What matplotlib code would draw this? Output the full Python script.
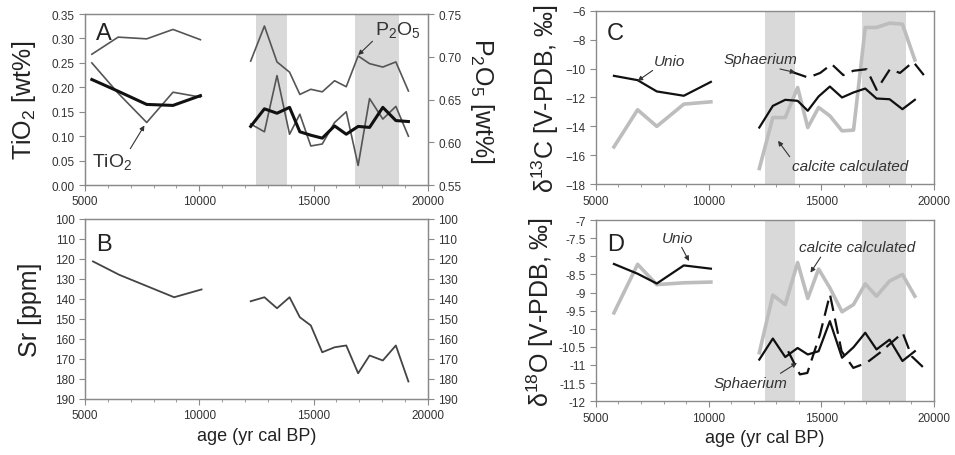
import matplotlib
matplotlib.use("Agg")
import matplotlib.pyplot as plt
from matplotlib.ticker import MultipleLocator, FormatStrFormatter, FuncFormatter

plt.rcParams['font.family'] = ['Liberation Sans', 'DejaVu Sans']
plt.rcParams['mathtext.fontset'] = 'custom'
plt.rcParams['mathtext.rm'] = 'Liberation Sans'

# ages (yr cal BP)
ages_holo = [5300, 6450, 7700, 8850, 10050]
ages_late = [12250, 12850, 13400, 13950, 14400, 14880, 15380, 15920,
             16430, 16950, 17450, 18030, 18600, 19150]

# panel A
tio2_holo = [0.250, 0.188, 0.128, 0.190, 0.180]
tio2_late = [0.125, 0.109, 0.224, 0.104, 0.145, 0.080, 0.084, 0.128,
             0.150, 0.040, 0.177, 0.135, 0.161, 0.100]
tio2_smooth_holo = [0.216, 0.192, 0.165, 0.163, 0.183]
tio2_smooth_late = [0.120, 0.156, 0.147, 0.159, 0.109, 0.102, 0.096, 0.121,
                    0.104, 0.120, 0.118, 0.159, 0.132, 0.130]
p2o5_holo = [0.703, 0.723, 0.721, 0.732, 0.720]
p2o5_late = [0.695, 0.736, 0.694, 0.682, 0.656, 0.662, 0.659, 0.672,
             0.665, 0.701, 0.692, 0.688, 0.694, 0.660]

# panel B
sr_ages_holo = [5350, 6500, 8900, 10100]
sr_holo = [121.3, 128.0, 139.2, 135.3]
sr_late = [141.2, 139.2, 144.7, 139.2, 149.2, 153.3, 166.7, 164.2,
           163.3, 177.2, 168.3, 170.8, 163.3, 181.3]

# panel C (d13C)
unio_ages_holo = [5800, 6850, 7700, 8900, 10100]
c_unio_holo = [-10.50, -10.80, -11.58, -11.88, -10.92]
c_calc_holo = [-15.42, -12.85, -14.00, -12.46, -12.30]
c_unio_late = [-14.08, -12.58, -12.16, -12.23, -12.92, -11.93, -11.24, -12.00,
               -11.65, -11.38, -12.07, -12.12, -12.81, -12.16]
c_calc_late = [-16.92, -13.39, -13.39, -11.31, -14.08, -12.69, -13.27, -14.31,
               -14.26, -7.15, -7.15, -6.85, -6.92, -9.40]
c_sph_ages = [13680, 14420, 14950, 15460, 15975, 16420, 17010, 17455,
              18046, 18490, 19080, 19550]
c_sph = [-10.22, -10.62, -10.30, -9.69, -10.45, -10.15, -10.04, -11.47,
         -10.04, -10.30, -9.53, -10.45]

# panel D (d18O)
d_unio_holo = [-8.21, -8.48, -8.75, -8.25, -8.34]
d_calc_holo = [-9.56, -8.22, -8.78, -8.73, -8.71]
d_unio_late = [-10.85, -10.27, -10.78, -10.53, -10.71, -10.62, -9.79, -10.80,
               -10.51, -10.11, -10.57, -10.30, -10.89, -10.62]
d_calc_late = [-10.66, -9.07, -9.33, -8.17, -9.16, -8.35, -8.87, -9.53,
               -9.33, -8.76, -9.10, -8.68, -8.50, -9.10]
d_sph_ages = [13530, 13830, 14050, 14380, 14940, 15384, 15900, 16420,
              17010, 17600, 18190, 18610, 19010, 19550]
d_sph = [-10.62, -10.99, -11.26, -11.22, -10.16, -9.05, -10.62, -11.08,
         -10.94, -10.66, -10.34, -10.11, -10.76, -11.08]

bands = [(12500, 13850), (16820, 18760)]

spine_col = '#8a8a8a'
txt_col = '#333333'
band_col = '#d9d9d9'


def style(ax, shade=True):
    ax.set_xlim(5000, 20000)
    ax.xaxis.set_major_locator(MultipleLocator(5000))
    ax.xaxis.set_minor_locator(MultipleLocator(1000))
    for s in ax.spines.values():
        s.set_color(spine_col)
        s.set_linewidth(1.0)
    ax.tick_params(which='both', colors=spine_col, labelcolor=txt_col,
                   labelsize=8.5, direction='out')
    ax.tick_params(which='major', length=4)
    ax.tick_params(which='minor', length=2.5)
    if shade:
        for b in bands:
            ax.axvspan(b[0], b[1], color=band_col, lw=0, zorder=0)


def style_twin(ax):
    for s in ax.spines.values():
        s.set_color(spine_col)
    ax.tick_params(colors=spine_col, labelcolor=txt_col, labelsize=8.5, length=4)


arrow = dict(arrowstyle='-|>', color=txt_col, lw=0.8, mutation_scale=7,
             shrinkA=0, shrinkB=0)
sph_dash = (7, 3.5)

fig = plt.figure(figsize=(9.55, 4.56), dpi=100)

# ---- A ----
axA = fig.add_axes([0.089, 0.592, 0.359, 0.375])
style(axA)
axA.set_ylim(0, 0.35)
axA.yaxis.set_major_locator(MultipleLocator(0.05))
axA.yaxis.set_major_formatter(FormatStrFormatter('%.2f'))
axA.plot(ages_holo, tio2_holo, color='#555555', lw=1.2)
axA.plot(ages_late, tio2_late, color='#555555', lw=1.2)
axA.plot(ages_holo, tio2_smooth_holo, color='#111111', lw=2.2)
axA.plot(ages_late, tio2_smooth_late, color='#111111', lw=2.2)
axA.set_ylabel('TiO$_2$ [wt%]', fontsize=18, color='#222222', labelpad=10)
axA.text(5500, 0.312, 'A', fontsize=17, color='#222222', va='center')
axA.annotate('TiO$_2$', xy=(7600, 0.122), xytext=(6200, 0.048),
             fontsize=14, color='#333333', ha='center', va='center',
             arrowprops=dict(arrow, relpos=(0.9, 1.0)))
axA2 = axA.twinx()
axA2.set_ylim(0.55, 0.75)
axA2.yaxis.set_major_locator(MultipleLocator(0.05))
axA2.yaxis.set_major_formatter(FormatStrFormatter('%.2f'))
style_twin(axA2)
axA2.plot(ages_holo, p2o5_holo, color='#555555', lw=1.2)
axA2.plot(ages_late, p2o5_late, color='#555555', lw=1.2)
axA2.set_ylabel('P$_2$O$_5$ [wt%]', fontsize=18, color='#222222',
                rotation=-90, labelpad=25)
axA2.annotate('P$_2$O$_5$', xy=(16950, 0.702), xytext=(18700, 0.731),
              fontsize=14, color='#333333', ha='center', va='center',
              arrowprops=dict(arrow, relpos=(0.05, 0.2)))

# ---- B ----
axB = fig.add_axes([0.089, 0.123, 0.359, 0.395])
style(axB, shade=False)
axB.set_ylim(190, 100)
axB.yaxis.set_major_locator(MultipleLocator(10))
axB.plot(sr_ages_holo, sr_holo, color='#444444', lw=1.3)
axB.plot(ages_late, sr_late, color='#444444', lw=1.3)
axB.set_ylabel('Sr [ppm]', fontsize=18, color='#222222', labelpad=9)
axB.set_xlabel('age (yr cal BP)', fontsize=13, color='#222222')
axB.text(5500, 112.5, 'B', fontsize=17, color='#222222', va='center')
axB2 = axB.twinx()
axB2.set_ylim(190, 100)
axB2.yaxis.set_major_locator(MultipleLocator(10))
style_twin(axB2)

# ---- C ----
axC = fig.add_axes([0.624, 0.594, 0.354, 0.380])
style(axC)
axC.set_ylim(-18, -6)
axC.yaxis.set_major_locator(MultipleLocator(2))
axC.plot(unio_ages_holo, c_calc_holo, color='#bdbdbd', lw=2.6)
axC.plot(ages_late, c_calc_late, color='#bdbdbd', lw=2.6)
axC.plot(unio_ages_holo, c_unio_holo, color='#111111', lw=1.6)
axC.plot(ages_late, c_unio_late, color='#111111', lw=1.6)
axC.plot(c_sph_ages, c_sph, color='#111111', lw=1.6, dashes=sph_dash)
axC.set_ylabel('\u03b4$^{13}$C [V-PDB, \u2030]', fontsize=18, color='#222222',
               labelpad=3)
axC.text(5500, -7.5, 'C', fontsize=17, color='#222222', va='center')
axC.annotate('Unio', xy=(6850, -10.85), xytext=(8250, -9.45), fontsize=11,
             style='italic', color='#333333', ha='center', va='center',
             arrowprops=dict(arrow, relpos=(0.1, 0.0)))
axC.annotate('Sphaerium', xy=(13850, -10.27), xytext=(12300, -9.35),
             fontsize=11, style='italic', color='#333333', ha='center',
             va='center', arrowprops=dict(arrow, relpos=(0.6, 0.0)))
axC.annotate('calcite calculated', xy=(13080, -15.0), xytext=(16300, -16.75),
             fontsize=11, style='italic', color='#333333', ha='center',
             va='center', arrowprops=dict(arrow, relpos=(0.0, 0.9)))

# ---- D ----
axD = fig.add_axes([0.624, 0.118, 0.354, 0.397])
style(axD)
axD.set_ylim(-12, -7)
axD.yaxis.set_major_locator(MultipleLocator(0.5))
axD.yaxis.set_major_formatter(FuncFormatter(lambda v, p: '%g' % v))
axD.plot(unio_ages_holo, d_calc_holo, color='#bdbdbd', lw=2.6)
axD.plot(ages_late, d_calc_late, color='#bdbdbd', lw=2.6)
axD.plot(unio_ages_holo, d_unio_holo, color='#111111', lw=1.6)
axD.plot(ages_late, d_unio_late, color='#111111', lw=1.6)
axD.plot(d_sph_ages, d_sph, color='#111111', lw=1.6, dashes=sph_dash)
axD.set_ylabel('\u03b4$^{18}$O [V-PDB, \u2030]', fontsize=18, color='#222222',
               labelpad=2)
axD.set_xlabel('age (yr cal BP)', fontsize=13, color='#222222')
axD.text(5500, -7.65, 'D', fontsize=17, color='#222222', va='center')
axD.annotate('Unio', xy=(9130, -8.13), xytext=(8600, -7.48), fontsize=11,
             style='italic', color='#333333', ha='center', va='center',
             arrowprops=dict(arrow, relpos=(0.6, 0.0)))
axD.annotate('calcite calculated', xy=(14520, -8.45), xytext=(16600, -7.75),
             fontsize=11, style='italic', color='#333333', ha='center',
             va='center', arrowprops=dict(arrow, relpos=(0.2, 0.0)))
axD.annotate('Sphaerium', xy=(13920, -10.94), xytext=(11850, -11.5),
             fontsize=11, style='italic', color='#333333', ha='center',
             va='center', arrowprops=dict(arrow, relpos=(0.85, 1.0)))

fig.savefig('out.png', dpi=100)
